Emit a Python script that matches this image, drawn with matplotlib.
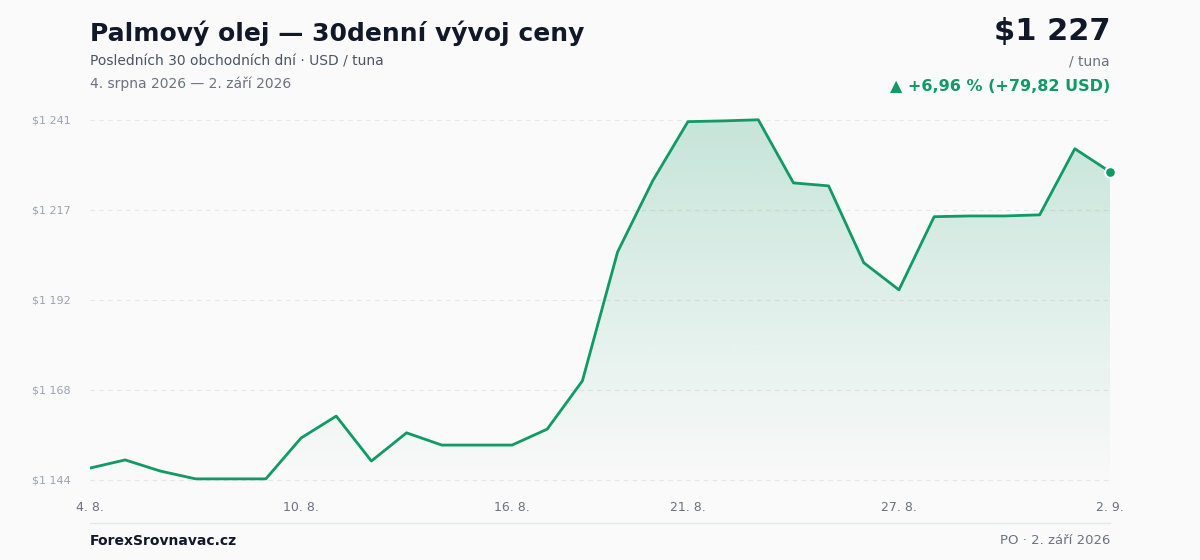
import numpy as np
import matplotlib.pyplot as plt
from matplotlib.patches import Polygon
from matplotlib.colors import LinearSegmentedColormap

# data
prices = [1147.2, 1149.4, 1146.4, 1144.3, 1144.3, 1144.3, 1155.3, 1161.2, 1149.1, 1156.7,
          1153.4, 1153.4, 1153.4, 1157.7, 1170.7, 1205.4, 1224.6, 1240.5, 1240.7, 1241.0,
          1224.0, 1223.2, 1202.5, 1195.2, 1214.9, 1215.1, 1215.1, 1215.4, 1233.2, 1227.0]
xtick_idx = [0, 6, 12, 17, 23, 29]
xtick_labels = ["4. 8.", "10. 8.", "16. 8.", "21. 8.", "27. 8.", "2. 9."]
ytick_vals = np.linspace(1144, 1241, 5)
ytick_labels = ["$1 144", "$1 168", "$1 192", "$1 217", "$1 241"]

green = "#0f9a66"
bg = "#fafafa"
x = np.arange(len(prices))

fig = plt.figure(figsize=(12, 5.6), dpi=100, facecolor=bg)
ax = fig.add_axes([0.075, 0.125, 0.85, 0.679], facecolor=bg)
ymin, ymax = 1141.3, 1243.7
ax.set_xlim(0, len(prices) - 1)
ax.set_ylim(ymin, ymax)

# gradient fill under line
cmap = LinearSegmentedColormap.from_list("g", [(0.06, 0.6, 0.4, 0.0), (0.06, 0.6, 0.4, 0.22)])
grad = np.linspace(0, 1, 256).reshape(-1, 1)
im = ax.imshow(grad, extent=[0, len(prices) - 1, ymin, max(prices)], origin="lower",
               aspect="auto", cmap=cmap, zorder=1)
poly = Polygon(np.column_stack([np.r_[x, x[-1], x[0]], np.r_[prices, ymin, ymin]]),
               closed=True, facecolor="none", edgecolor="none")
ax.add_patch(poly)
im.set_clip_path(poly)

ax.plot(x, prices, color=green, lw=2, zorder=3)
ax.scatter([x[-1]], [prices[-1]], s=60, color=green, edgecolor="white", lw=1.5, zorder=4, clip_on=False)

for v in ytick_vals:
    ax.axhline(v, color="#e5e7eb", lw=0.8, ls=(0, (4, 4)), zorder=0)
ax.set_yticks(ytick_vals)
ax.set_yticklabels(ytick_labels, fontsize=8, color="#9aa3b2")
ax.set_xticks(xtick_idx)
ax.set_xticklabels(xtick_labels, fontsize=9, color="#6b7280")
ax.tick_params(length=0, pad=8)
ax.tick_params(axis="y", pad=10)
for lbl in ax.get_yticklabels():
    lbl.set_horizontalalignment("left")
    lbl.set_x(-0.043)
for s in ax.spines.values():
    s.set_visible(False)

# header
fig.text(0.075, 0.94, "Palmový olej — 30denní vývoj ceny", fontsize=18, fontweight="bold",
         color="#111827", va="center")
fig.text(0.075, 0.891, "Posledních 30 obchodních dní · USD / tuna", fontsize=10, color="#4b5563", va="center")
fig.text(0.075, 0.851, "4. srpna 2026 — 2. září 2026", fontsize=10, color="#6b7280", va="center")
fig.text(0.925, 0.943, "$1 227", fontsize=22, fontweight="bold", color="#111827", va="center", ha="right")
fig.text(0.925, 0.891, "/ tuna", fontsize=10, color="#6b7280", va="center", ha="right")
fig.text(0.925, 0.845, "▲ +6,96 % (+79,82 USD)", fontsize=11.5, fontweight="bold", color=green,
         va="center", ha="right")

# footer
fig.add_artist(plt.Line2D([0.075, 0.925], [0.066, 0.066], color="#e5e7eb", lw=1))
fig.text(0.075, 0.034, "ForexSrovnavac.cz", fontsize=10, fontweight="bold", color="#111827", va="center")
fig.text(0.925, 0.034, "PO · 2. září 2026", fontsize=9.5, color="#6b7280", va="center", ha="right")

fig.savefig("out.png", dpi=100, facecolor=bg)
